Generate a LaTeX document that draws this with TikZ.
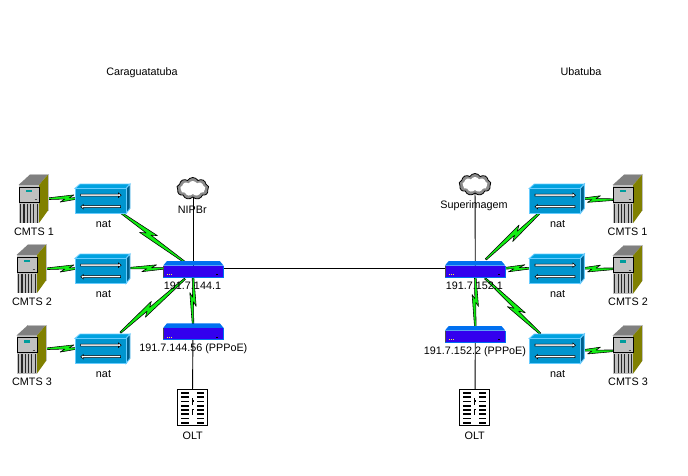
\documentclass[tikz,border=0pt]{standalone}
\usepackage{fontspec}
\setmainfont{Liberation Sans}
\usetikzlibrary{calc,shapes.symbols}
\definecolor{boltgreen}{HTML}{12EE12}
\definecolor{srvtop}{HTML}{808080}
\definecolor{srvside}{HTML}{808000}
\definecolor{srvfront}{HTML}{C0C0C0}
\definecolor{srvteal}{HTML}{009C9C}
\definecolor{nattop}{HTML}{00A2E0}
\definecolor{natfront}{HTML}{0095CF}
\definecolor{natside}{HTML}{005F8C}
\definecolor{natedge}{HTML}{66CCFF}
\definecolor{rtop}{HTML}{0070F0}
\definecolor{rfront}{HTML}{3300EE}
\tikzset{
  wire/.style={draw=black,line width=.9pt},
  boltshape/.style={draw=black,line width=.55pt,fill=boltgreen,line join=miter,miter limit=3},
  lbl/.style={font=\fontsize{10.8}{12}\selectfont,inner sep=0pt,text=black,anchor=base},
  natarrow/.style={draw=black,line width=.55pt,fill=white},
  cloudouter/.style={cloud,cloud puffs=9,cloud puff arc=120,aspect=1.5,draw=black,line width=.8pt,fill=black!45,minimum width=32pt,minimum height=22pt,inner sep=0pt},
  cloudinner/.style={cloud,cloud puffs=9,cloud puff arc=120,aspect=1.5,fill=white,minimum width=25pt,minimum height=15pt,inner sep=0pt}
}
% from, to, start, earlier tip, later tip, end (distances from the first point), offset
\newcommand\bolt[7]{%
  \pgfmathsetmacro\nAa{#5-.35*(#5-#4)}%
  \pgfmathsetmacro\nBb{#4+.35*(#5-#4)}%
  \pgfmathsetmacro\oA{.15*#7}%
  \path[boltshape] ($(#1)!#3pt!(#2)!.8pt!90:(#2)$)
    -- ($(#1)!#5pt!(#2)!#7pt!90:(#2)$)
    -- ($(#1)!\nAa pt!(#2)!\oA pt!90:(#2)$)
    -- ($(#1)!#6pt!(#2)!.8pt!90:(#2)$)
    -- ($(#1)!#6pt!(#2)!.8pt!-90:(#2)$)
    -- ($(#1)!#4pt!(#2)!#7pt!-90:(#2)$)
    -- ($(#1)!\nBb pt!(#2)!\oA pt!-90:(#2)$)
    -- ($(#1)!#3pt!(#2)!.8pt!-90:(#2)$)
    -- cycle;}
\newcommand\serverdev[2]{%
  \begin{scope}[shift={(#1,#2)}]
    \fill[srvtop] (0,10.5) -- (11.5,0) -- (29.5,0) -- (20.5,10.5) -- cycle;
    \fill[srvside] (20.5,10.5) -- (29.5,0) -- (29.5,36) -- (20.5,48.5) -- cycle;
    \draw[black!25,line width=.7pt] (11.5,0) -- (29.5,0) -- (29.5,36);
    \fill[srvfront] (0,10.5) rectangle (20.5,48.5);
    \draw[black,line width=.9pt,fill=srvfront] (.8,12.5) rectangle (20.5,27.5);
    \fill[srvteal] (7.5,15.3) rectangle (13.5,17.5);
    \draw[black!70,line width=.6pt] (16,24.8) -- (18,24.8);
    \foreach \sx in {2.2,5.5,8.8,12.1,15.4,18.7}
      \draw[black!85,line width=1.1pt] (\sx,29) -- (\sx,48);
  \end{scope}}
\newcommand\natdev[2]{%
  \begin{scope}[shift={(#1,#2)}]
    \path[draw=natedge,line width=.9pt,fill=nattop] (0,4.5) -- (5,0) -- (55,0) -- (51,4.5) -- cycle;
    \path[draw=natedge,line width=.9pt,fill=natside] (51,4.5) -- (55,0) -- (55,24.5) -- (51,29.5) -- cycle;
    \path[draw=natedge,line width=.9pt,fill=natfront] (0,4.5) rectangle (51,29.5);
    \path[natarrow] (5.7,10.2) -- (43.5,10.2) -- (43.5,9) -- (46.2,11.2) -- (43.5,13.4) -- (43.5,12.2) -- (5.7,12.2) -- cycle;
    \path[natarrow] (45.7,21.7) -- (8.4,21.7) -- (8.4,20.5) -- (5.7,22.7) -- (8.4,24.9) -- (8.4,23.7) -- (45.7,23.7) -- cycle;
  \end{scope}}
\newcommand\routerdev[2]{%
  \begin{scope}[shift={(#1,#2)}]
    \fill[rtop] (0,4.5) -- (3.7,0) -- (56.5,0) -- (60.2,4.5) -- cycle;
    \fill[rfront] (0,4.5) rectangle (60.2,16);
    \draw[black!70,line width=.6pt] (0,4.5) -- (0,16);
    \draw[rtop,line width=.7pt] (0,16) -- (60.2,16) -- (60.2,4.5);
    \foreach \dx in {3.6,5.6,7.6}
      \fill[yellow!80!white] (\dx,13.2) rectangle +(1,1);
    \fill[black] (52.5,13.2) rectangle (54.5,14.2);
  \end{scope}}
\newcommand\oltdev[2]{%
  \begin{scope}[shift={(#1,#2)}]
    \draw[black,line width=.9pt,fill=white] (0,0) rectangle (30,36.4);
    \foreach \row in {0,...,7} {
      \fill[black] (3.7,{2.6+4.3*\row}) rectangle +(8,1.7);
      \fill[black] (19.2,{2.6+4.3*\row}) rectangle +(7.6,1.7);
    }
    \fill[black] (14.6,9) rectangle (15.6,16);
    \fill[black] (14.6,19.5) rectangle (15.6,26);
    \fill[black] (14.6,11) rectangle (16.6,12.2);
    \fill[black] (14.6,19.5) rectangle (16.6,20.7);
  \end{scope}}
\begin{document}
\begin{tikzpicture}[x=1pt,y=-1pt]
\useasboundingbox (0,0) rectangle (688,476);
\fill[white] (0,0) rectangle (688,476);
% connection points
\coordinate (srvLa) at (33,199);
\coordinate (srvLb) at (31,269);
\coordinate (srvLc) at (31,349);
\coordinate (natLa) at (102,198);
\coordinate (natLb) at (102,268);
\coordinate (natLc) at (102,348);
\coordinate (rtL) at (193,268.5);
\coordinate (rtLlow) at (193,272);
\coordinate (ppL) at (193,331);
\coordinate (cldL) at (193,189);
\coordinate (oltL) at (192.4,407);
\coordinate (srvRa) at (627,200);
\coordinate (srvRb) at (627,269);
\coordinate (srvRc) at (627,351);
\coordinate (natRa) at (556.5,198);
\coordinate (natRb) at (556.5,268);
\coordinate (natRc) at (556.5,350);
\coordinate (rtR) at (475.3,268.5);
\coordinate (ppR) at (475.3,334);
\coordinate (cldR) at (475,184);
\coordinate (oltR) at (475,407);
% plain links
\draw[wire] (rtL) -- (rtR);
\draw[wire] (cldL) -- (rtL);
\draw[wire] (ppL) -- (oltL);
\draw[wire] (cldR) -- (rtR);
\draw[wire] (ppR) -- (oltR);
% bolts
\bolt{srvLa}{natLa}{14}{27}{41}{44}{3.5}
\bolt{srvLb}{natLb}{15}{29}{43}{46}{3.5}
\bolt{srvLc}{natLc}{15}{29}{43}{46}{3.5}
\bolt{natLa}{rtL}{25}{50.7}{67}{105}{4.2}
\bolt{natLb}{rtL}{28}{39.7}{54.7}{62}{3.5}
\bolt{natLc}{rtLlow}{24}{53}{67.8}{108}{4.2}
\bolt{rtL}{ppL}{8}{24}{38}{55}{3.2}
\bolt{natRa}{srvRa}{27}{31}{44}{57}{3.5}
\bolt{natRb}{srvRb}{27}{31}{44}{57}{3.5}
\bolt{natRc}{srvRc}{27}{31}{44}{57}{3.5}
\bolt{rtR}{natRa}{14}{45.9}{61.6}{88}{4.2}
\bolt{rtR}{natRb}{29}{33}{49.7}{55}{3.5}
\bolt{rtR}{natRc}{14}{49.6}{66.7}{92}{4.2}
\bolt{rtR}{ppR}{9}{26}{38}{58}{3.2}
% devices
\serverdev{18.5}{174.5}
\serverdev{16.5}{244.5}
\serverdev{16.5}{325}
\serverdev{612.7}{174.5}
\serverdev{612.7}{245}
\serverdev{612.7}{325}
\natdev{75}{184}
\natdev{75}{254}
\natdev{75}{334}
\natdev{529.3}{184}
\natdev{529.3}{254}
\natdev{529.3}{334}
\routerdev{163.3}{261}
\routerdev{163.3}{323.3}
\routerdev{445}{261}
\routerdev{445}{326}
\oltdev{177.3}{389.3}
\oltdev{459.3}{389.3}
\node[cloudouter] (cloudL) at (192.8,188.5) {};
\node[cloudinner] (cloudLi) at (192.8,188.5) {};
\node[cloudouter] (cloudR) at (475,184.5) {};
\node[cloudinner] (cloudRi) at (475,184.5) {};
% labels
\node[lbl] (tCar) at (142,75.3) {Caraguatatuba};
\node[lbl] (tUba) at (581,75.3) {Ubatuba};
\node[lbl] (tSa) at (34,235.3) {CMTS 1};
\node[lbl] (tSb) at (32,305) {CMTS 2};
\node[lbl] (tSc) at (32,385.8) {CMTS 3};
\node[lbl] (tNa) at (103.5,227.3) {nat};
\node[lbl] (tNb) at (103.5,297.3) {nat};
\node[lbl] (tNc) at (103.5,377.8) {nat};
\node[lbl] (tCl) at (192.3,213.8) {NIPBr};
\node[lbl] (tRl) at (192.5,289.3) {191.7.144.1};
\node[lbl] (tPl) at (193.3,351.3) {191.7.144.56 (PPPoE)};
\node[lbl] (tOl) at (192.7,439.8) {OLT};
\node[lbl] (tCr) at (474,208) {Superimagem};
\node[lbl] (tRr) at (474.3,289.3) {191.7.152.1};
\node[lbl] (tPr) at (475,354.3) {191.7.152.2 (PPPoE)};
\node[lbl] (tOr) at (474.7,439.8) {OLT};
\node[lbl] (tNd) at (557.5,227.3) {nat};
\node[lbl] (tNe) at (557.5,297.3) {nat};
\node[lbl] (tNf) at (557.5,377.8) {nat};
\node[lbl] (tSd) at (627.5,235.3) {CMTS 1};
\node[lbl] (tSe) at (628,305.3) {CMTS 2};
\node[lbl] (tSf) at (628,385.8) {CMTS 3};
\end{tikzpicture}
\end{document}
